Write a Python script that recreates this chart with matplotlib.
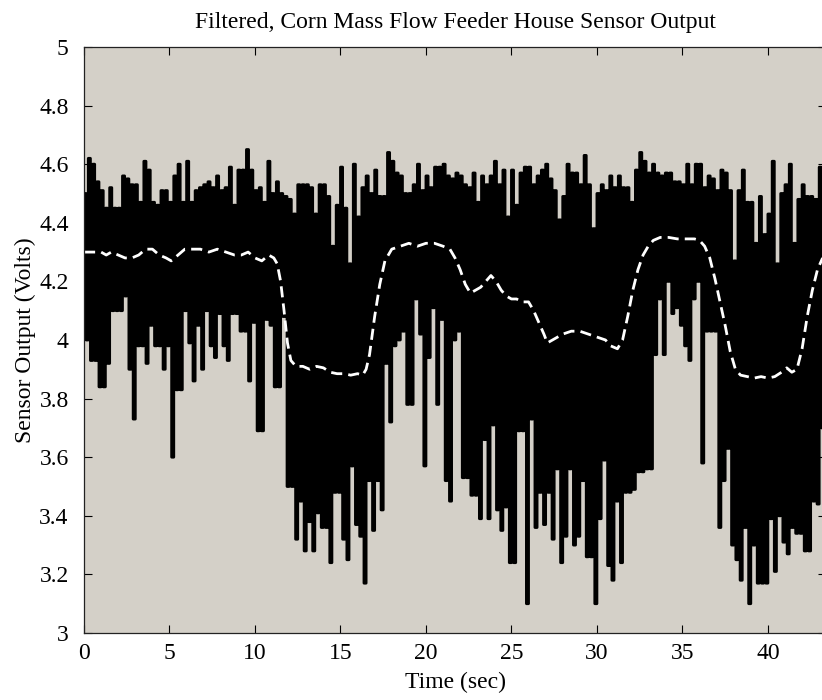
import matplotlib.pyplot as plt
import numpy as np
from matplotlib.ticker import FuncFormatter

# raw sensor output, sampled every 0.25 s: local highs and the lows between them
dt = 0.25
upper = [
    4.50, 4.62, 4.60, 4.54, 4.51, 4.45, 4.52, 4.45, 4.45, 4.56,
    4.55, 4.53, 4.53, 4.47, 4.61, 4.58, 4.47, 4.46, 4.51, 4.51,
    4.47, 4.56, 4.60, 4.47, 4.61, 4.47, 4.51, 4.52, 4.53, 4.54,
    4.52, 4.56, 4.51, 4.52, 4.59, 4.46, 4.58, 4.58, 4.65, 4.58,
    4.51, 4.52, 4.47, 4.61, 4.50, 4.54, 4.50, 4.49, 4.48, 4.43,
    4.53, 4.53, 4.53, 4.52, 4.43, 4.53, 4.53, 4.49, 4.32, 4.46,
    4.59, 4.45, 4.26, 4.60, 4.42, 4.52, 4.56, 4.50, 4.58, 4.49,
    4.49, 4.64, 4.61, 4.57, 4.56, 4.50, 4.50, 4.53, 4.60, 4.51,
    4.56, 4.52, 4.59, 4.59, 4.60, 4.56,
    4.55, 4.57, 4.56, 4.53, 4.52, 4.57, 4.47, 4.56, 4.53, 4.56,
    4.61, 4.53, 4.58, 4.42, 4.58, 4.46, 4.57, 4.59, 4.59, 4.53,
    4.56, 4.58, 4.60, 4.55, 4.51, 4.41, 4.49, 4.60, 4.57, 4.57,
    4.53, 4.63, 4.53, 4.38, 4.50, 4.53, 4.51, 4.56, 4.52, 4.56,
    4.52, 4.52, 4.47, 4.58, 4.64, 4.61, 4.57, 4.60, 4.57, 4.56,
    4.57, 4.57, 4.54, 4.54, 4.53, 4.60, 4.53, 4.60, 4.60, 4.52,
    4.56, 4.55, 4.51, 4.58, 4.57, 4.51, 4.27, 4.51, 4.58, 4.47,
    4.47, 4.33, 4.49, 4.36, 4.43, 4.61, 4.26, 4.50, 4.53, 4.60,
    4.33, 4.48, 4.53, 4.49, 4.49, 4.48, 4.59, 4.55,
]
lower = [
    4.00, 3.93, 3.93, 3.84, 3.84, 3.92, 4.10, 4.10, 4.10, 4.15,
    3.90, 3.73, 3.98, 3.98, 3.92, 4.05, 3.98, 3.98, 3.90, 3.98,
    3.60, 3.83, 3.83, 4.10, 3.99, 3.86, 4.05, 3.90, 4.10, 3.98,
    3.94, 4.09, 3.98, 3.93, 4.09, 4.09, 4.03, 4.03, 3.86, 4.06,
    3.69, 3.69, 4.07, 4.05, 3.84, 3.84, 4.08, 3.50, 3.50, 3.32,
    3.45, 3.28, 3.38, 3.28, 3.41, 3.36, 3.36, 3.24, 3.48, 3.48,
    3.32, 3.25, 3.57, 3.37, 3.33, 3.17, 3.52, 3.35, 3.52, 3.42,
    3.92, 3.72, 3.98, 4.00, 4.03, 3.78, 3.78, 4.14, 4.02, 3.57,
    3.94, 4.11, 3.78, 4.07, 3.52, 3.45,
    4.00, 4.03, 3.53, 3.53, 3.47, 3.47, 3.39, 3.66, 3.39, 3.71,
    3.42, 3.35, 3.43, 3.24, 3.24, 3.69, 3.69, 3.10, 3.73, 3.36,
    3.48, 3.37, 3.48, 3.32, 3.56, 3.24, 3.33, 3.56, 3.30, 3.33,
    3.52, 3.26, 3.26, 3.10, 3.39, 3.59, 3.23, 3.18, 3.45, 3.24,
    3.48, 3.48, 3.49, 3.55, 3.55, 3.56, 3.56, 3.95, 4.14, 3.95,
    4.20, 4.09, 4.11, 4.05, 3.98, 3.93, 4.14, 4.20, 3.58, 4.03,
    4.03, 4.03, 3.36, 3.52, 3.63, 3.30, 3.25, 3.18, 3.36, 3.10,
    3.30, 3.17, 3.17, 3.17, 3.39, 3.21, 3.40, 3.31, 3.27, 3.36,
    3.34, 3.34, 3.28, 3.28, 3.45, 3.44, 3.70, 3.70,
]

# filtered output
filt_t = [
    0, 0.5, 1.0, 1.3, 1.6, 2.0, 2.4, 2.8, 3.2, 3.6,
    4.0, 4.4, 4.8, 5.1, 5.5, 5.9, 6.3, 6.8, 7.3, 7.8,
    8.3, 8.8, 9.2, 9.6, 10.0, 10.4, 10.8, 11.1, 11.3, 11.5,
    11.7, 11.9, 12.1, 12.4, 12.8, 13.2, 13.6, 14.0, 14.4, 14.8,
    15.2, 15.6, 16.0, 16.3, 16.5, 16.7, 17.0, 17.3, 17.6, 18.0,
    18.5, 19.0, 19.5, 20.0, 20.5, 21.0, 21.4, 21.7, 22.0, 22.3,
    22.6, 22.9, 23.2, 23.5, 23.8, 24.1, 24.4, 24.7, 25.0, 25.3,
    25.6, 26.0, 26.3, 26.6, 26.9, 27.1, 27.4, 27.7, 28.0, 28.5,
    29.0, 29.5, 30.0, 30.5, 30.8, 31.2, 31.5, 31.8, 32.1, 32.4,
    32.7, 33.0, 33.3, 33.7, 34.2, 34.7, 35.2, 35.7, 36.0, 36.3,
    36.6, 36.9, 37.2, 37.5, 37.8, 38.1, 38.4, 38.8, 39.2, 39.6,
    40.0, 40.4, 40.8, 41.1, 41.4, 41.7, 42.0, 42.3, 42.6, 42.9,
    43.2,
]
filt_v = [
    4.30, 4.30, 4.30, 4.29, 4.30, 4.29, 4.28, 4.28, 4.29, 4.31,
    4.31, 4.29, 4.28, 4.27, 4.29, 4.31, 4.31, 4.31, 4.30, 4.31,
    4.30, 4.29, 4.29, 4.30, 4.28, 4.27, 4.29, 4.28, 4.26, 4.20,
    4.10, 3.99, 3.93, 3.91, 3.91, 3.90, 3.91, 3.905, 3.89, 3.885,
    3.885, 3.88, 3.885, 3.88, 3.90, 3.95, 4.08, 4.19, 4.27, 4.31,
    4.32, 4.33, 4.32, 4.33, 4.33, 4.32, 4.31, 4.28, 4.24, 4.19,
    4.16, 4.17, 4.18, 4.20, 4.22, 4.20, 4.17, 4.15, 4.14, 4.14,
    4.13, 4.13, 4.10, 4.06, 4.02, 3.99, 4.00, 4.01, 4.02, 4.03,
    4.03, 4.02, 4.01, 4.00, 3.98, 3.97, 4.00, 4.08, 4.17, 4.24,
    4.29, 4.32, 4.34, 4.35, 4.35, 4.345, 4.345, 4.345, 4.34, 4.32,
    4.28, 4.21, 4.13, 4.05, 3.96, 3.90, 3.88, 3.875, 3.87, 3.875,
    3.87, 3.875, 3.89, 3.905, 3.89, 3.90, 3.97, 4.08, 4.17, 4.24,
    4.28,
]

xticks = [0, 5, 10, 15, 20, 25, 30, 35, 40]
yticks = [3, 3.2, 3.4, 3.6, 3.8, 4, 4.2, 4.4, 4.6, 4.8, 5]

plt.rcParams['font.family'] = ['Liberation Serif', 'DejaVu Serif']
# keep every up/down stroke of the raw trace
plt.rcParams['path.simplify'] = False

t = np.arange(len(upper)) * dt
sig_t = np.column_stack([t, t + dt / 2]).ravel()
sig_v = np.column_stack([upper, lower]).ravel()

fig = plt.figure(figsize=(8.22, 7.0), dpi=100)
ax = fig.add_axes([0.1022, 0.0957, 0.9027, 0.8372])
ax.set_facecolor('#d4d0c8')

raw, = ax.step(sig_t, sig_v, where='post', color='black', lw=2.0)
raw.set_snap(False)
ax.plot(filt_t, filt_v, color='white', lw=2.0, linestyle=(0, (4, 2.2)))

ax.set_xlim(0, 43.4)
ax.set_ylim(3, 5)
ax.set_xticks(xticks)
ax.set_yticks(yticks)
ax.yaxis.set_major_formatter(FuncFormatter(lambda v, p: '{:g}'.format(round(v, 2))))
ax.tick_params(direction='in', length=6, width=0.8, top=True, right=True,
               labelsize=17)
ax.tick_params(axis='y', pad=11)
ax.tick_params(axis='x', pad=7)
for s in ax.spines.values():
    s.set_linewidth(0.9)
    s.set_color('#222222')

ax.set_title('Filtered, Corn Mass Flow Feeder House Sensor Output', fontsize=17, pad=14)
ax.set_xlabel('Time (sec)', fontsize=17, labelpad=6)
ax.set_ylabel('Sensor Output (Volts)', fontsize=17, labelpad=2)

plt.savefig('out.png', dpi=100)
